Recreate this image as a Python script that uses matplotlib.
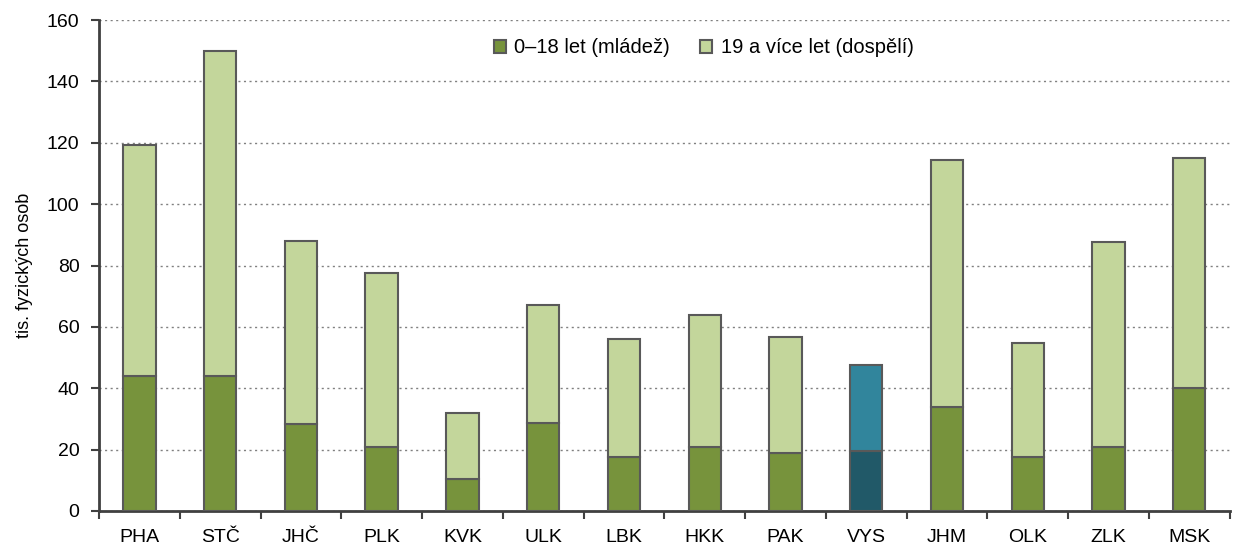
import numpy as np
import matplotlib.pyplot as plt
from matplotlib.patches import Patch

plt.rcParams['font.family'] = ['Liberation Sans', 'DejaVu Sans']

regions = ['PHA', 'STČ', 'JHČ', 'PLK', 'KVK', 'ULK', 'LBK', 'HKK', 'PAK', 'VYS', 'JHM', 'OLK', 'ZLK', 'MSK']
youth = [44, 44, 28.5, 21, 10.5, 28.7, 17.5, 21, 19, 19.5, 34, 17.5, 21, 40]
total = [119.3, 150, 88, 77.5, 32, 67.3, 56, 63.8, 56.7, 47.6, 114.3, 54.7, 87.6, 115]
adults = [t - y for t, y in zip(total, youth)]

### colours, VYS highlighted
c_young = ['#77933C'] * len(regions)
c_adult = ['#C3D69B'] * len(regions)
c_young[regions.index('VYS')] = '#215968'
c_adult[regions.index('VYS')] = '#31859C'
edge = '#595959'

fig = plt.figure(figsize=(12.42, 5.44), dpi=100)
ax = fig.add_axes([0.0797, 0.0607, 0.9103, 0.9023])

x = np.arange(len(regions))
w = 0.4
ax.bar(x, youth, w, color=c_young, edgecolor=edge, linewidth=1.5, zorder=3)
ax.bar(x, adults, w, bottom=youth, color=c_adult, edgecolor=edge, linewidth=1.5, zorder=3)

ax.set_xlim(-0.5, len(regions) - 0.5)
ax.set_ylim(0, 160)
ax.set_yticks(range(0, 161, 20))
ax.yaxis.grid(True, linestyle=(0, (1.5, 2.5)), color='#808080', linewidth=1.0, zorder=0)

ax.set_xticks(x)
ax.set_xticklabels(regions, fontsize=14)
ax.set_xticks(np.arange(-0.5, len(regions), 1), minor=True)
ax.tick_params(axis='x', which='major', length=0, pad=13)
ax.tick_params(axis='x', which='minor', length=6, width=1.5, color='#404040')
ax.tick_params(axis='y', labelsize=14, length=6, width=1.5, color='#404040', direction='out', pad=8)

for s in ['top', 'right']:
    ax.spines[s].set_visible(False)
for s in ['left', 'bottom']:
    ax.spines[s].set_color('#404040')
    ax.spines[s].set_linewidth(2)

ax.set_ylabel('tis. fyzických osob', fontsize=13, labelpad=10)

handles = [Patch(facecolor='#77933C', edgecolor=edge, linewidth=1.5),
           Patch(facecolor='#C3D69B', edgecolor=edge, linewidth=1.5)]
ax.legend(handles, ['0–18 let (mládež)', '19 a více let (dospělí)'], loc='upper center',
          bbox_to_anchor=(0.535, 1.0), ncol=2, frameon=False, fontsize=14.5,
          handlelength=0.6, handleheight=0.6, handletextpad=0.4, columnspacing=1.5)

fig.savefig('out.png', dpi=100)
